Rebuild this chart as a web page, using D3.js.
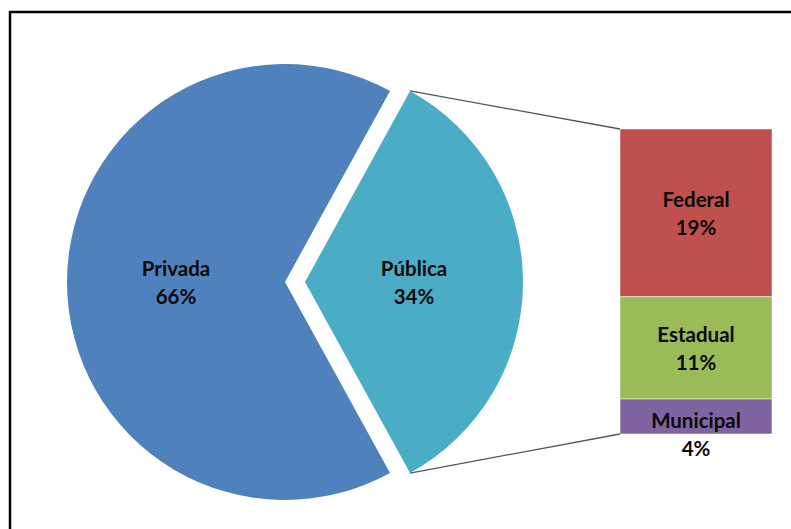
<!DOCTYPE html>
<html>
<head>
<meta charset="utf-8">
<title>Pie of pie</title>
<script src="https://d3js.org/d3.v7.min.js"></script>
<style>
  body { margin: 0; background: #fff; }
  svg { display: block; }
  text { font-family: Lato, "Noto Sans", sans-serif; font-weight: bold; font-size: 20.5px; fill: #0a0a0a; }
</style>
</head>
<body>
<svg id="chart" width="791" height="529"></svg>
<script>
  // main pie
  let pieNames = ['Privada', 'Pública'];
  let pieValues = [66, 34];
  let pieColors = ['#4f81bd', '#4bacc6'];

  // breakdown of Pública (stacked bar)
  let barNames = ['Federal', 'Estadual', 'Municipal'];
  let barValues = [18.7, 11.4, 3.9];
  let barLabels = ['19%', '11%', '4%'];
  let barColors = ['#c0504d', '#9bbb59', '#8064a2'];

  let svg = d3.select('#chart');

  // frame round the chart (right and bottom edges fall outside the window)
  svg.append('rect')
    .attr('x', 10).attr('y', 12)
    .attr('width', 900).attr('height', 700)
    .attr('fill', 'none')
    .attr('stroke', '#000')
    .attr('stroke-width', 2.5);

  let cx = 285, cy = 282, radius = 218, explode = 20;

  let total = d3.sum(pieValues);
  let share = pieValues[1] / total;
  // Pública is centred on the right side (angle pi/2)
  let start = Math.PI / 2 + share * Math.PI;
  let pie = d3.pie().sort(null).startAngle(start).endAngle(start + 2 * Math.PI);
  let arcs = pie(pieValues);
  let arc = d3.arc().innerRadius(0).outerRadius(radius);

  let pieG = svg.append('g');
  arcs.forEach(function(d, i) {
    let mid = (d.startAngle + d.endAngle) / 2;
    let off = i == 1 ? explode : 0;
    let ox = cx + off * Math.sin(mid);
    let oy = cy - off * Math.cos(mid);
    d.ox = ox; d.oy = oy;
    let g = pieG.append('g').attr('transform', translate(ox, oy));
    g.append('path').attr('d', arc(d)).attr('fill', pieColors[i]);
    let lx = radius * 0.5 * Math.sin(mid);
    let ly = -radius * 0.5 * Math.cos(mid);
    let pct = Math.round(pieValues[i] / total * 100) + '%';
    let t = g.append('text').attr('text-anchor', 'middle');
    t.append('tspan').attr('x', lx).attr('y', ly - 6).text(pieNames[i]);
    t.append('tspan').attr('x', lx).attr('y', ly + 22).text(pct);
  });

  // stacked bar
  let barX = 620, barW = 152;
  let y = d3.scaleLinear().domain([0, d3.sum(barValues)]).range([129, 434]);
  let cum = 0;
  let barG = svg.append('g');
  barValues.forEach(function(v, i) {
    let y0 = y(cum), y1 = y(cum + v);
    cum += v;
    barG.append('rect')
      .attr('x', barX).attr('y', y0)
      .attr('width', barW).attr('height', y1 - y0)
      .attr('fill', barColors[i])
      .attr('stroke', '#fff').attr('stroke-opacity', 0.5).attr('stroke-width', 1);
    let mx = barX + barW / 2;
    let b1 = (y1 - y0) < 50 ? y1 - 6 : (y0 + y1) / 2 - 6;
    let t = barG.append('text').attr('text-anchor', 'middle');
    t.append('tspan').attr('x', mx).attr('y', b1).text(barNames[i]);
    t.append('tspan').attr('x', mx).attr('y', b1 + 28).text(barLabels[i]);
  });

  // connector lines from the Pública slice to the bar
  let pub = arcs[1];
  let tipTop = [pub.ox + radius * Math.sin(pub.startAngle), pub.oy - radius * Math.cos(pub.startAngle)];
  let tipBottom = [pub.ox + radius * Math.sin(pub.endAngle), pub.oy - radius * Math.cos(pub.endAngle)];
  svg.append('line')
    .attr('x1', tipTop[0]).attr('y1', tipTop[1]).attr('x2', barX).attr('y2', y.range()[0])
    .attr('stroke', '#555').attr('stroke-width', 1.3);
  svg.append('line')
    .attr('x1', tipBottom[0]).attr('y1', tipBottom[1]).attr('x2', barX).attr('y2', y.range()[1])
    .attr('stroke', '#555').attr('stroke-width', 1.3);

  function translate(x, y) {
    return 'translate(' + x + ',' + y + ')';
  }
</script>
</body>
</html>
